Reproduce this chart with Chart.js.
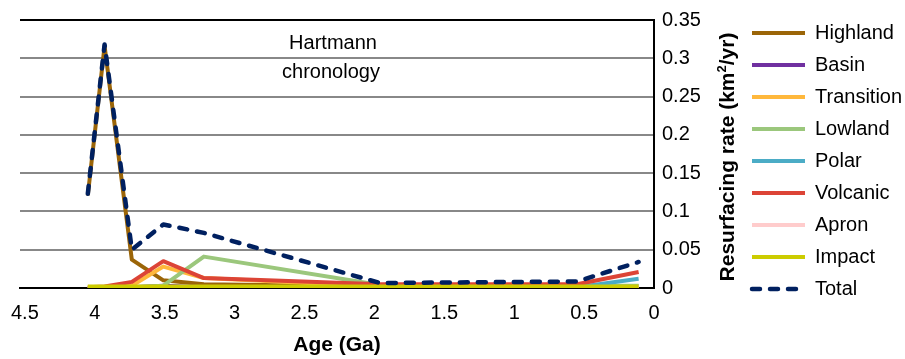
<!DOCTYPE html>
<html>
<head>
<meta charset="utf-8">
<script src="https://cdn.jsdelivr.net/npm/chart.js@4.4.1/dist/chart.umd.min.js"></script>
<style>
  html, body { margin: 0; padding: 0; background: #ffffff; }
  #wrap { width: 905px; height: 359px; }
</style>
</head>
<body>
<div id="wrap"><canvas id="c" width="905" height="359"></canvas></div>
<script>
// ---- data ----
const ages = [4.05, 3.93, 3.735, 3.51, 3.22, 1.96, 0.55, 0.11];   // Ga
const highland   = [0.121, 0.316, 0.037, 0.010, 0.005, 0.002, 0.002, 0.002];
const basin      = [0.000, 0.000, 0.001, 0.003, 0.001, 0.000, 0.000, 0.000];
const transition = [0.000, 0.001, 0.003, 0.028, 0.013, 0.002, 0.001, 0.001];
const lowland    = [0.000, 0.000, 0.001, 0.003, 0.041, 0.004, 0.003, 0.003];
const polar      = [0.000, 0.000, 0.000, 0.000, 0.000, 0.000, 0.001, 0.012];
const volcanic   = [0.001, 0.002, 0.008, 0.035, 0.013, 0.005, 0.005, 0.021];
const apron      = [0.000, 0.000, 0.000, 0.000, 0.000, 0.001, 0.001, 0.001];
const impact     = [0.002, 0.002, 0.002, 0.002, 0.002, 0.002, 0.002, 0.002];
const total      = [0.123, 0.318, 0.050, 0.083, 0.072, 0.0065, 0.0085, 0.034];

const seriesNames = ['Highland', 'Basin', 'Transition', 'Lowland', 'Polar', 'Volcanic', 'Apron', 'Impact', 'Total'];
const xTicks = [0, 0.5, 1, 1.5, 2, 2.5, 3, 3.5, 4, 4.5];
const xTickLabels = ['0', '0.5', '1', '1.5', '2', '2.5', '3', '3.5', '4', '4.5'];
const yTicks = [0, 0.05, 0.1, 0.15, 0.2, 0.25, 0.3, 0.35];
const yTickLabels = ['0', '0.05', '0.1', '0.15', '0.2', '0.25', '0.3', '0.35'];
const xTitle = 'Age (Ga)';
const yTitleParts = ['Resurfacing rate (km', '2', '/yr)'];
const noteLines = ['Hartmann', 'chronology'];

// ---- styling ----
const colors = ['#9B6508', '#7030A0', '#FFB83C', '#9BC77C', '#4BACC6', '#DC4436', '#FFCCCC', '#CCCC00', '#002060'];
const FONT = '"Liberation Sans", Arial, Helvetica, sans-serif';
const seriesValues = [highland, basin, transition, lowland, polar, volcanic, apron, impact, total];

const datasets = seriesValues.map((vals, i) => {
  const isTotal = seriesNames[i] === 'Total';
  return {
    label: seriesNames[i],
    data: ages.map((a, k) => ({ x: a, y: vals[k] })),
    borderColor: colors[i],
    backgroundColor: colors[i],
    borderWidth: isTotal ? 4.5 : 4,
    borderDash: isTotal ? [8, 10] : [],
    borderCapStyle: isTotal ? 'round' : 'butt',
    borderJoinStyle: 'round',
    pointRadius: 0,
    pointHoverRadius: 0,
    pointStyle: 'line',
    tension: 0,
    fill: false,
    order: seriesNames.length - i   // later series drawn on top
  };
});

const decor = {
  id: 'decor',
  afterLayout(chart) {
    const lg = chart.legend;
    if (lg) { lg.left = 740; lg.top = 11; }
  },
  afterDraw(chart) {
    const ctx = chart.ctx;
    ctx.save();
    // annotation
    ctx.fillStyle = '#000';
    ctx.font = '20px ' + FONT;
    ctx.textAlign = 'center';
    ctx.textBaseline = 'alphabetic';
    ctx.fillText(noteLines[0], 333, 49);
    ctx.fillText(noteLines[1], 331, 78);
    // rotated y title on the right
    const big = 'bold 21px ' + FONT, small = 'bold 13px ' + FONT;
    ctx.font = big;  const w1 = ctx.measureText(yTitleParts[0]).width;
    ctx.font = small; const w2 = ctx.measureText(yTitleParts[1]).width;
    ctx.font = big;  const w3 = ctx.measureText(yTitleParts[2]).width;
    const tw = w1 + w2 + w3;
    ctx.translate(728, 157);
    ctx.rotate(-Math.PI / 2);
    ctx.textAlign = 'left';
    ctx.textBaseline = 'middle';
    let x = -tw / 2;
    ctx.font = big; ctx.fillText(yTitleParts[0], x, 0); x += w1;
    ctx.font = small; ctx.fillText(yTitleParts[1], x, -6); x += w2;
    ctx.font = big; ctx.fillText(yTitleParts[2], x, 0);
    ctx.restore();
  }
};

new Chart(document.getElementById('c'), {
  type: 'line',
  data: { datasets },
  plugins: [decor],
  options: {
    responsive: false,
    animation: false,
    events: [],
    layout: { padding: { left: 20, top: 17, right: 0, bottom: 0 } },
    plugins: {
      tooltip: { enabled: false },
      legend: {
        display: true,
        position: 'right',
        align: 'start',
        maxWidth: 163,
        labels: {
          usePointStyle: true,
          pointStyleWidth: 53,
          padding: 12,
          color: '#000',
          font: { family: FONT, size: 20 },
          sort: (a, b) => a.datasetIndex - b.datasetIndex,
          generateLabels: (chart) => {
            const items = Chart.defaults.plugins.legend.labels.generateLabels(chart);
            items.forEach(it => {
              const ds = chart.data.datasets[it.datasetIndex];
              it.lineDash = ds.borderDash;
              it.lineWidth = ds.borderWidth;
              it.lineCap = ds.borderCapStyle;
              it.strokeStyle = ds.borderColor;
              it.fillStyle = ds.borderColor;
              it.pointStyle = 'line';
            });
            return items;
          }
        }
      }
    },
    scales: {
      x: {
        type: 'linear',
        reverse: true,
        min: 0,
        max: 4.535,
        afterBuildTicks: (s) => { s.ticks = xTicks.map(v => ({ value: v })); },
        afterFit: (s) => { s.height = 71; },
        ticks: {
          autoSkip: false,
          maxRotation: 0,
          padding: 13,
          color: '#000',
          font: { family: FONT, size: 20 },
          callback: (v) => { const i = xTicks.indexOf(v); return i >= 0 ? xTickLabels[i] : ''; }
        },
        grid: { display: false, drawTicks: false },
        border: { display: true, color: '#000', width: 2 },
        title: {
          display: true,
          text: xTitle,
          color: '#000',
          font: { family: FONT, size: 21, weight: 'bold' },
          padding: { top: 0, bottom: 1 }
        }
      },
      y: {
        type: 'linear',
        position: 'right',
        min: 0,
        max: 0.35,
        afterBuildTicks: (s) => { s.ticks = yTicks.map(v => ({ value: v })); },
        afterFit: (s) => { s.width = 88; },
        ticks: {
          padding: 8,
          color: '#000',
          font: { family: FONT, size: 20 },
          callback: (v) => { const i = yTicks.findIndex(t => Math.abs(t - v) < 1e-9); return i >= 0 ? yTickLabels[i] : ''; }
        },
        grid: {
          drawTicks: false,
          color: (c) => (c.tick && (Math.abs(c.tick.value - 0.35) < 1e-9 || c.tick.value === 0)) ? '#000' : '#888888',
          lineWidth: 2
        },
        border: { display: true, color: '#000', width: 2 },
        title: { display: false }
      }
    }
  }
});
</script>
</body>
</html>
